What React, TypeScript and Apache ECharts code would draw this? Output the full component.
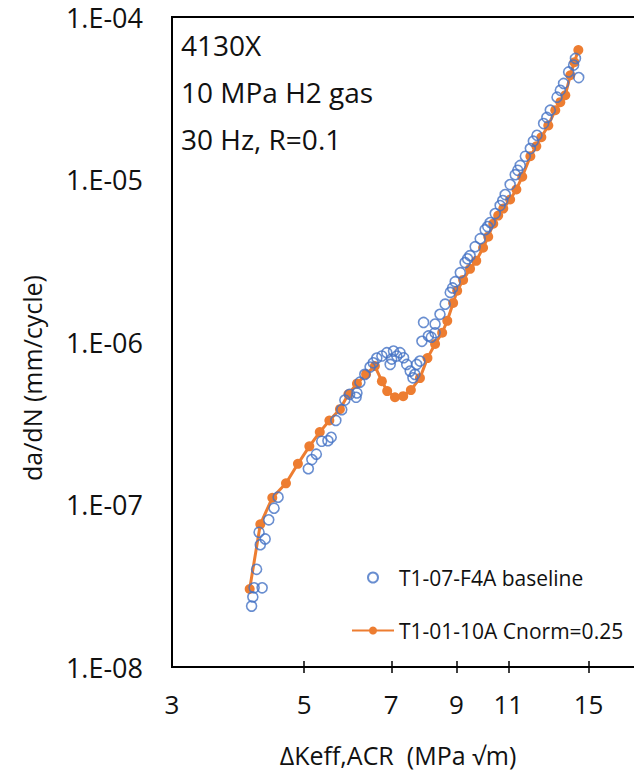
import React, { useEffect, useRef } from 'react';
import * as echarts from 'echarts';

// ΔKeff (MPa√m) and da/dN (mm/cycle)
const baselineK = [4.08, 4.10, 4.12, 4.25, 4.16, 4.22, 4.30, 4.20, 4.36, 4.45, 4.52, 5.08, 5.15, 5.24, 5.35, 5.48, 5.55, 5.65, 5.78, 5.85, 5.96, 6.11, 6.13, 6.20, 6.32, 6.45, 6.53, 6.62, 6.75, 6.88, 6.97, 7.01, 7.06, 7.15, 7.24, 7.34, 7.43, 7.53, 7.61, 7.67, 7.72, 7.82, 7.88, 8.08, 8.17, 8.29, 7.93, 8.29, 8.45, 8.62, 8.79, 8.87, 8.96, 9.14, 9.31, 9.40, 9.49, 9.68, 9.87, 10.06, 10.16, 10.26, 10.46, 10.66, 10.77, 10.87, 11.08, 11.30, 11.41, 11.52, 11.75, 11.98, 12.12, 12.29, 12.61, 12.77, 12.94, 13.28, 13.45, 13.62, 13.89, 14.16, 14.44, 14.26];
const baselineRate = [2.37e-8, 2.70e-8, 3.07e-8, 3.07e-8, 3.99e-8, 5.66e-8, 6.14e-8, 6.75e-8, 8.05e-8, 9.49e-8, 1.11e-7, 1.66e-7, 1.89e-7, 2.04e-7, 2.45e-7, 2.47e-7, 2.59e-7, 3.29e-7, 3.83e-7, 4.39e-7, 4.77e-7, 4.57e-7, 4.86e-7, 5.66e-7, 6.32e-7, 7.01e-7, 7.45e-7, 7.96e-7, 8.2e-7, 8.59e-7, 7.28e-7, 7.85e-7, 8.8e-7, 8.2e-7, 8.59e-7, 8.0e-7, 7.28e-7, 6.62e-7, 6.02e-7, 6.32e-7, 7.28e-7, 7.63e-7, 1.01e-6, 1.09e-6, 1.07e-6, 1.14e-6, 1.32e-6, 1.29e-6, 1.48e-6, 1.71e-6, 2.02e-6, 2.15e-6, 2.35e-6, 2.67e-6, 3.08e-6, 3.25e-6, 3.40e-6, 3.86e-6, 4.32e-6, 4.91e-6, 5.13e-6, 5.43e-6, 6.17e-6, 6.91e-6, 7.42e-6, 8.08e-6, 9.31e-6, 1.07e-5, 1.14e-5, 1.22e-5, 1.39e-5, 1.55e-5, 1.72e-5, 1.87e-5, 2.21e-5, 2.41e-5, 2.67e-5, 3.21e-5, 3.54e-5, 3.90e-5, 4.59e-5, 5.06e-5, 4.24e-5, 5.56e-5];

const cnormK = [4.05, 4.22, 4.42, 4.66, 4.88, 5.10, 5.31, 5.51, 5.74, 5.93, 6.13, 6.35, 6.57, 6.75, 6.89, 7.10, 7.33, 7.55, 7.82, 8.05, 8.29, 8.52, 8.69, 8.89, 9.03, 9.24, 9.49, 9.72, 9.98, 10.18, 10.38, 10.58, 10.79, 11.08, 11.35, 11.61, 11.98, 12.26, 12.50, 12.84, 13.19, 13.45, 13.71, 13.98, 14.20, 14.42];
const cnormRate = [3.02e-8, 7.55e-8, 1.10e-7, 1.35e-7, 1.78e-7, 2.28e-7, 2.79e-7, 3.29e-7, 3.86e-7, 4.77e-7, 5.54e-7, 6.34e-7, 7.11e-7, 5.74e-7, 4.99e-7, 4.57e-7, 4.64e-7, 5.06e-7, 6.0e-7, 7.96e-7, 9.72e-7, 1.14e-6, 1.35e-6, 1.74e-6, 2.07e-6, 2.41e-6, 2.82e-6, 3.16e-6, 3.80e-6, 4.45e-6, 5.35e-6, 6.0e-6, 6.62e-6, 7.53e-6, 8.68e-6, 1.04e-5, 1.39e-5, 1.60e-5, 1.82e-5, 2.15e-5, 2.67e-5, 2.99e-5, 3.30e-5, 4.38e-5, 5.27e-5, 6.26e-5];

const xTickLabels = [3, 5, 7, 9, 11, 15];
const xTickMarks = [5, 7, 9, 11, 15];
const notes = ['4130X', '10 MPa H2 gas', '30 Hz, R=0.1'];
const seriesNames = ['T1-07-F4A baseline', 'T1-01-10A Cnorm=0.25'];
const xTitle = 'ΔKeff,ACR  (MPa √m)';
const yTitle = 'da/dN (mm/cycle)';

const FONT = 'Open Sans';
const BLUE = '#4472C4';
const ORANGE = '#ED7D31';

function fmtY(v: number) {
  const e = Math.round(Math.log10(v));
  return '1.E' + (e < 0 ? '-' : '+') + String(Math.abs(e)).padStart(2, '0');
}

export default function App() {
  const ref = useRef<HTMLDivElement>(null);
  useEffect(() => {
    if (!ref.current) return;
    const chart = echarts.init(ref.current, null, { renderer: 'svg' });
    const xBase = {
      type: 'log' as const,
      logBase: 10,
      min: 3,
      max: 20,
      position: 'bottom' as const,
      axisLine: { show: false },
      splitLine: { show: false },
      minorTick: { show: false },
    };
    chart.setOption({
      animation: false,
      backgroundColor: '#fff',
      grid: {
        left: 172,
        top: 17,
        right: 17,
        bottom: 106,
        show: true,
        borderColor: '#000',
        borderWidth: 2,
        containLabel: false,
        outerBoundsMode: 'none',
      },
      xAxis: [
        {
          ...xBase,
          axisTick: { show: true, length: 6, customValues: xTickMarks, lineStyle: { color: '#000', width: 1.5 } },
          axisLabel: {
            show: true,
            customValues: xTickLabels,
            margin: 24,
            fontSize: 26,
            fontFamily: FONT,
            color: '#111',
            formatter: (v: number) => String(Math.round(v)),
          },
        },
        {
          ...xBase,
          axisTick: { show: true, inside: true, length: 6, customValues: xTickMarks, lineStyle: { color: '#000', width: 1.5 } },
          axisLabel: { show: false },
        },
      ],
      yAxis: {
        type: 'log',
        logBase: 10,
        min: 1e-8,
        max: 1e-4,
        splitNumber: 4,
        axisLine: { show: false },
        axisTick: { show: false },
        splitLine: { show: false },
        minorTick: { show: false },
        axisLabel: {
          margin: 29,
          fontSize: 27,
          fontFamily: FONT,
          color: '#111',
          formatter: fmtY,
        },
      },
      legend: {
        orient: 'vertical',
        left: 346,
        top: 562,
        itemWidth: 42,
        itemHeight: 10,
        itemGap: 32,
        textStyle: { fontSize: 21, fontFamily: FONT, color: '#111' },
        data: [seriesNames[0], seriesNames[1]],
      },
      graphic: [
        ...notes.map((t, i) => ({
          type: 'text',
          left: 181,
          top: 31 + i * 47,
          style: { text: t, fontSize: 28, fontFamily: FONT, fill: '#111' },
        })),
        {
          type: 'text',
          x: 32,
          y: 378,
          rotation: Math.PI / 2,
          style: { text: yTitle, fontSize: 25, fontFamily: FONT, fill: '#111', align: 'center', verticalAlign: 'middle' },
        },
        {
          type: 'text',
          x: 398,
          y: 755,
          style: { text: xTitle, fontSize: 25, fontFamily: FONT, fill: '#111', align: 'center', verticalAlign: 'middle' },
        },
      ],
      series: [
        {
          name: seriesNames[1],
          type: 'line',
          xAxisIndex: 0,
          data: cnormK.map((k, i) => [k, cnormRate[i]]),
          symbol: 'circle',
          symbolSize: 10,
          showSymbol: true,
          lineStyle: { color: ORANGE, width: 3 },
          itemStyle: { color: ORANGE },
          z: 2,
        },
        {
          name: seriesNames[0],
          type: 'scatter',
          xAxisIndex: 0,
          data: baselineK.map((k, i) => [k, baselineRate[i]]),
          symbol: 'circle',
          symbolSize: 10,
          itemStyle: { color: 'rgba(255,255,255,0)', borderColor: BLUE, borderWidth: 1.6 },
          z: 3,
        },
      ],
    });
    return () => chart.dispose();
  }, []);
  return (
    <div style={{ position: 'absolute', left: 0, top: 0, width: 634, height: 773, overflow: 'hidden', background: '#fff' }}>
      <div ref={ref} style={{ width: 680, height: 773 }} />
    </div>
  );
}
